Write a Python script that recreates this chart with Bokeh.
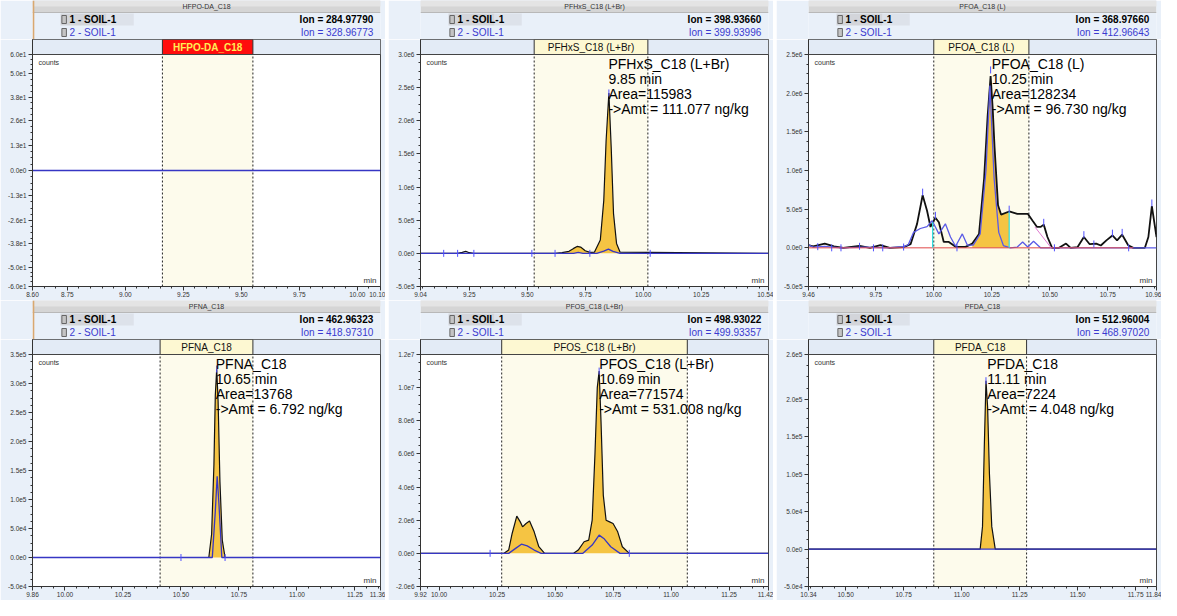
import numpy as np
from bokeh.plotting import figure
from bokeh.layouts import column, row
from bokeh.models import Range1d, FixedTicker, NumeralTickFormatter, Span
from bokeh.core.properties import value
from bokeh.embed import file_html
from bokeh.resources import INLINE

FONT = "Liberation Sans"

# ---------------- data ----------------
compounds = ["HFPO-DA_C18", "PFHxS_C18 (L+Br)", "PFOA_C18 (L)",
             "PFNA_C18", "PFOS_C18 (L+Br)", "PFDA_C18"]
ion1_mz = ["284.97790", "398.93660", "368.97660", "462.96323", "498.93022", "512.96004"]
ion2_mz = ["328.96773", "399.93996", "412.96643", "418.97310", "499.93357", "468.97020"]
sample1 = "1 - SOIL-1"
sample2 = "2 - SOIL-1"

x_limits = [(8.60, 10.10), (9.04, 10.54), (9.46, 10.96),
            (9.86, 11.36), (9.92, 11.42), (10.34, 11.84)]
x_ticks = [[8.60, 8.75, 9.00, 9.25, 9.50, 9.75, 10.00, 10.10],
           [9.04, 9.25, 9.50, 9.75, 10.00, 10.25, 10.54],
           [9.46, 9.75, 10.00, 10.25, 10.50, 10.75, 10.96],
           [9.86, 10.00, 10.25, 10.50, 10.75, 11.00, 11.25, 11.36],
           [9.92, 10.00, 10.25, 10.50, 10.75, 11.00, 11.25, 11.42],
           [10.34, 10.50, 10.75, 11.00, 11.25, 11.50, 11.75, 11.84]]
y_limits = [(-60, 60), (-5e5, 3e6), (-5e5, 2.5e6),
            (-5e4, 3.5e5), (-2e6, 1.2e7), (-5e4, 2.6e5)]
y_ticks = [[60, 50, 38, 26, 13, 0, -13, -26, -38, -50, -60],
           [3.0e6, 2.5e6, 2.0e6, 1.5e6, 1.0e6, 5.0e5, 0, -5.0e5],
           [2.5e6, 2.0e6, 1.5e6, 1.0e6, 5.0e5, 0, -5.0e5],
           [3.5e5, 3.0e5, 2.5e5, 2.0e5, 1.5e5, 1.0e5, 5.0e4, 0, -5.0e4],
           [1.2e7, 1.0e7, 8.0e6, 6.0e6, 4.0e6, 2.0e6, 0, -2.0e6],
           [2.6e5, 2.0e5, 1.5e5, 1.0e5, 5.0e4, 0, -5.0e4]]
windows = [(9.16, 9.55), (9.53, 10.02), (10.00, 10.41),
           (10.41, 10.81), (10.27, 11.07), (10.88, 11.28)]

ret_times = [None, 9.85, 10.25, 10.65, 10.69, 11.11]
areas = [None, "115983", "128234", "13768", "771574", "7224"]
amounts = [None, "111.077", "96.730", "6.792", "531.008", "4.048"]
fill_limits = [None, (9.65, 9.90), (10.166, 10.325), (10.62, 10.69), (10.28, 10.82), (11.08, 11.145)]

# HFPO-DA
hfpo_t1 = [8.60, 10.10]
hfpo_s1 = [0, 0]
hfpo_t2 = [8.60, 10.10]
hfpo_s2 = [0, 0]

# PFHxS
pfhxs_t1 = [9.04, 9.14, 9.20, 9.22, 9.235, 9.25, 9.27, 9.52, 9.62, 9.65, 9.68, 9.70, 9.715,
            9.73, 9.75, 9.77, 9.79, 9.815, 9.83, 9.84, 9.852, 9.862, 9.872, 9.885, 9.90, 10.54]
pfhxs_s1 = [0, 0, 0, 1.5e4, 3.0e4, 1.0e4, 0, 0, 0, 1.0e4, 3.0e4, 7.5e4, 1.05e5,
            9.5e4, 4.0e4, 1.5e4, 2.0e4, 2.0e5, 8.0e5, 1.7e6, 2.42e6, 1.6e6, 6.0e5, 1.5e5, 2.0e4, 0]
pfhxs_t2 = [9.04, 9.70, 9.72, 9.74, 9.80, 9.83, 9.85, 9.87, 9.90, 10.54]
pfhxs_s2 = [0, 0, 1.5e4, 0, 0, 3.5e4, 6.5e4, 3.0e4, 0, 0]
pfhxs_mark_t = [9.14, 9.20, 9.27, 9.52, 9.62, 9.77, 9.852, 10.03]
pfhxs_mark_y = [0, 0, 0, 0, 0, 0, 2.42e6, 0]

# PFOA
pfoa_t1 = [9.46, 9.48, 9.53, 9.57, 9.61, 9.68, 9.725, 9.77, 9.81, 9.87,
           9.90, 9.928, 9.952, 9.971, 9.986, 10.007, 10.022, 10.043, 10.065, 10.094,
           10.137, 10.166, 10.195, 10.217, 10.232, 10.245, 10.254, 10.262, 10.277, 10.29,
           10.325, 10.36, 10.405, 10.426, 10.445, 10.46, 10.474, 10.49, 10.51, 10.54,
           10.57, 10.59, 10.62, 10.647, 10.672, 10.70, 10.72, 10.744, 10.77, 10.79,
           10.812, 10.838, 10.86, 10.91, 10.925, 10.94, 10.96]
pfoa_s1 = [3.4e4, 2.0e4, 5.5e4, 2.0e4, 0, 2.5e4, 0, 3.4e4, 0, 1.0e4,
           4.7e4, 3.1e5, 6.8e5, 4.8e5, 2.7e5, 3.9e5, 3.3e5, 7.6e4, 7.6e4, 1.3e4,
           1.3e4, 5.5e4, 1.8e5, 9.0e5, 1.7e6, 2.22e6, 1.8e6, 1.3e6, 5.5e5, 4.3e5,
           4.7e5, 4.4e5, 4.4e5, 3.5e5, 2.7e5, 2.7e5, 3.0e5, 1.4e5, 0, 0,
           5.5e4, 0, 1.0e4, 1.4e5, 4.7e4, 5.5e4, 3.0e4, 9.7e4, 1.6e5, 9.7e4,
           1.7e5, 3.4e4, 0, 0, 1.4e5, 5.4e5, 1.4e5]
pfoa_t2 = [9.46, 9.48, 9.53, 9.60, 9.70, 9.80, 9.87, 9.89, 9.913, 9.942,
           9.971, 9.993, 10.007, 10.022, 10.05, 10.072, 10.094, 10.123, 10.145, 10.17,
           10.20, 10.225, 10.242, 10.26, 10.28, 10.30, 10.33, 10.36, 10.383, 10.405,
           10.43, 10.46, 10.96]
pfoa_s2 = [4.0e4, 1.0e4, 2.0e4, 0, 1.0e4, 0, 1.5e4, 4.0e4, 2.0e5, 2.5e5,
           2.75e5, 3.5e5, 2.7e5, 1.8e5, 3.1e5, 1.4e5, 2.0e4, 1.8e5, 3.4e4, 3.4e4,
           1.8e5, 1.0e6, 2.1e6, 9.0e5, 2.0e5, 3.0e4, 0, 1.0e4, 7.6e4, 1.0e4,
           8.5e4, 0, 0]
pfoa_mark_t = [9.46, 9.50, 9.56, 9.60, 9.68, 9.74, 9.78, 9.87, 9.952, 10.007, 10.10,
               10.245, 10.325, 10.474, 10.52, 10.647, 10.69, 10.77, 10.812, 10.84, 10.94]
pfoa_mark_y = [3.4e4, 1.5e4, 0, 0, 2.0e4, 0, 0, 1.0e4, 7.2e5, 4.2e5, 0,
               2.3e6, 5.0e5, 3.3e5, 0, 1.7e5, 5.0e4, 1.9e5, 2.0e5, 0, 5.8e5]
pfoa_base_t = [9.46, 10.86]
pfoa_base_y = [0, 0]
pfoa_drop_t = [10.436, 10.506]
pfoa_drop_y = [2.7e5, 0]
pfoa_cut_t = [9.995, 10.325]
pfoa_cut_y = [3.3e5, 4.7e5]

# PFNA
pfna_t1 = [9.86, 10.50, 10.62, 10.632, 10.642, 10.648, 10.654, 10.66, 10.668, 10.678, 10.69, 11.36]
pfna_s1 = [0, 0, 0, 4.0e4, 1.6e5, 2.8e5, 3.25e5, 2.7e5, 1.3e5, 3.0e4, 0, 0]
pfna_t2 = [9.86, 10.635, 10.648, 10.656, 10.664, 10.676, 11.36]
pfna_s2 = [0, 0, 8.0e4, 1.4e5, 9.0e4, 0, 0]
pfna_mark_t = [10.50, 10.69, 10.654]
pfna_mark_y = [0, 0, 3.25e5]

# PFOS
pfos_t1 = [9.92, 10.22, 10.28, 10.30, 10.315, 10.335, 10.35, 10.36, 10.375, 10.39,
           10.41, 10.43, 10.455, 10.58, 10.60, 10.625, 10.645, 10.66, 10.672, 10.682,
           10.69, 10.698, 10.708, 10.72, 10.735, 10.75, 10.77, 10.79, 10.82, 11.42]
pfos_s1 = [0, 0, 0, 2.0e5, 1.2e6, 2.25e6, 1.9e6, 1.6e6, 1.8e6, 1.95e6,
           1.3e6, 4.0e5, 0, 0, 2.0e5, 7.0e5, 8.0e5, 2.0e6, 6.0e6, 1.0e7,
           1.1e7, 8.0e6, 3.5e6, 2.0e6, 1.9e6, 1.8e6, 1.3e6, 4.0e5, 0, 0]
pfos_t2 = [9.92, 10.30, 10.33, 10.355, 10.38, 10.41, 10.44, 10.62, 10.66, 10.69, 10.71, 10.74, 10.78, 11.42]
pfos_s2 = [0, 0, 3.0e5, 5.5e5, 4.5e5, 2.0e5, 0, 0, 5.0e5, 1.1e6, 9.0e5, 4.0e5, 0, 0]
pfos_mark_t = [10.22, 10.82, 10.69]
pfos_mark_y = [0, 0, 1.1e7]

# PFDA
pfda_t1 = [10.34, 11.08, 11.09, 11.098, 11.105, 11.112, 11.12, 11.13, 11.145, 11.84]
pfda_s1 = [0, 0, 3.0e4, 1.4e5, 2.25e5, 1.9e5, 1.0e5, 3.0e4, 0, 0]
pfda_t2 = [10.34, 11.84]
pfda_s2 = [0, 0]
pfda_mark_t = [11.105]
pfda_mark_y = [2.25e5]

traces = [
    (hfpo_t1, hfpo_s1, hfpo_t2, hfpo_s2, [], []),
    (pfhxs_t1, pfhxs_s1, pfhxs_t2, pfhxs_s2, pfhxs_mark_t, pfhxs_mark_y),
    (pfoa_t1, pfoa_s1, pfoa_t2, pfoa_s2, pfoa_mark_t, pfoa_mark_y),
    (pfna_t1, pfna_s1, pfna_t2, pfna_s2, pfna_mark_t, pfna_mark_y),
    (pfos_t1, pfos_s1, pfos_t2, pfos_s2, pfos_mark_t, pfos_mark_y),
    (pfda_t1, pfda_s1, pfda_t2, pfda_s2, pfda_mark_t, pfda_mark_y),
]

# ---------------- layout constants ----------------
W = 385
HEAD_H = 39
CHART_H = 261
LEFT = 32
RIGHT = 5
BOTTOM = 14
STRIP_PX = 15
PANEL_BG = "#e9f0f9"
BLACK_TRACE = "#111111"
BLUE_TRACE = "#3636c4"
LABEL_BLUE = "#3a3ad0"
YELLOW = "#f5c443"


def sci(v):
    if v == 0:
        return "0.0e0"
    m, e = f"{v:.1e}".split("e")
    return f"{m}e{int(e)}"


def y_minors(majors, n=4):
    s = sorted(majors)
    out = []
    for a, b in zip(s[:-1], s[1:]):
        for k in range(1, n):
            out.append(a + (b - a) * k / n)
    return out


def x_minors(lo, hi, step=0.05):
    start = np.ceil(lo / step - 1e-9) * step
    return [round(v, 3) for v in np.arange(start, hi + 1e-9, step)]


def make_header(i):
    h = figure(width=W, height=HEAD_H, x_range=Range1d(0, W), y_range=Range1d(0, HEAD_H),
               output_backend="svg", toolbar_location=None, min_border=0,
               x_axis_location=None, y_axis_location=None)
    h.grid.visible = False
    h.outline_line_color = None
    h.background_fill_color = PANEL_BG
    h.border_fill_color = PANEL_BG
    # title bar
    h.quad(left=[0], right=[W], bottom=[HEAD_H - 12], top=[HEAD_H], fill_color="#d5d5d5", line_color=None)
    h.quad(left=[0], right=[W], bottom=[HEAD_H - 6], top=[HEAD_H], fill_color="#e4e4e4", line_color=None)
    h.line(x=[0, W], y=[HEAD_H - 12, HEAD_H - 12], line_color="#b8b8b8", line_width=1)
    h.text(x=[W / 2], y=[HEAD_H - 6], text=[compounds[i]], text_align="center", text_baseline="middle",
           text_font=value(FONT), text_font_size="7px", text_color="#333333")
    if i % 3 == 0:
        h.quad(left=[0], right=[2], bottom=[0], top=[HEAD_H], fill_color="#d9a870", line_color=None)
    # highlighted first row
    h.quad(left=[LEFT - 1], right=[LEFT + 50], bottom=[14], top=[26], fill_color="#d3d5da", line_color=None)
    h.quad(left=[LEFT + 50], right=[LEFT + 80], bottom=[14], top=[26], fill_color="#dde2ea", line_color=None)
    # vial icons
    h.rect(x=[LEFT + 3, LEFT + 3], y=[20, 7], width=5, height=8, fill_color="#c4c4c4", line_color="#666666")
    h.text(x=[LEFT + 9], y=[20], text=[sample1], text_baseline="middle", text_font=value(FONT),
           text_font_size="10px", text_font_style="bold", text_color="black")
    h.text(x=[LEFT + 9], y=[7], text=[sample2], text_baseline="middle", text_font=value(FONT),
           text_font_size="10px", text_color=LABEL_BLUE)
    h.text(x=[W - RIGHT - 3], y=[20], text=["Ion = " + ion1_mz[i]], text_align="right", text_baseline="middle",
           text_font=value(FONT), text_font_size="10px", text_font_style="bold", text_color="black")
    h.text(x=[W - RIGHT - 3], y=[7], text=["Ion = " + ion2_mz[i]], text_align="right", text_baseline="middle",
           text_font=value(FONT), text_font_size="10px", text_color=LABEL_BLUE)
    return h


def make_chart(i):
    x0, x1 = x_limits[i]
    ymin, ymax = y_limits[i]
    ytop = ymax + (ymax - ymin) * STRIP_PX / (CHART_H - BOTTOM - STRIP_PX)
    w0, w1 = windows[i]
    t1, s1, t2, s2, mt, my = traces[i]

    c = figure(width=W, height=CHART_H, x_range=Range1d(x0, x1), y_range=Range1d(ymin, ytop),
               output_backend="svg", toolbar_location=None,
               min_border_left=LEFT, min_border_right=RIGHT, min_border_top=0, min_border_bottom=BOTTOM)
    c.grid.visible = False
    c.background_fill_color = "white"
    c.border_fill_color = PANEL_BG
    c.outline_line_color = "#444444"

    # axes
    c.xaxis.ticker = FixedTicker(ticks=x_ticks[i], minor_ticks=x_minors(x0, x1))
    c.xaxis.formatter = NumeralTickFormatter(format="0.00")
    c.yaxis.ticker = FixedTicker(ticks=y_ticks[i], minor_ticks=y_minors(y_ticks[i]))
    c.yaxis.major_label_overrides = {v: sci(v) for v in y_ticks[i]}
    for ax in (c.xaxis[0], c.yaxis[0]):
        ax.major_label_text_font = FONT
        ax.major_label_text_font_size = "6.5px"
        ax.major_label_text_color = "#333333"
        ax.axis_line_color = "#333333"
        ax.major_tick_line_color = "#333333"
        ax.minor_tick_line_color = "#333333"
        ax.major_tick_in = 0
        ax.major_tick_out = 4
        ax.minor_tick_in = 0
        ax.minor_tick_out = 2
    c.xaxis.major_label_standoff = 1
    c.yaxis.major_label_standoff = 2

    # integration window shading
    c.quad(left=[w0], right=[w1], bottom=[ymin], top=[ymax], fill_color="#fdfbec", line_color=None)
    # header strip with compound box
    c.quad(left=[x0], right=[x1], bottom=[ymax], top=[ytop], fill_color="#e3ebf6", line_color=None)
    if i == 0:
        box_fill, box_text, box_style = "#ff0d0d", "#ffee55", "bold"
    else:
        box_fill, box_text, box_style = "#fdf8d2", "#111111", "normal"
    c.quad(left=[w0], right=[w1], bottom=[ymax], top=[ytop], fill_color=box_fill, line_color="#333333")
    c.text(x=[(w0 + w1) / 2], y=[(ymax + ytop) / 2], text=[compounds[i]], text_align="center",
           text_baseline="middle", text_font=value(FONT), text_font_size="10px",
           text_font_style=box_style, text_color=box_text)
    c.add_layout(Span(location=ymax, dimension="width", line_color="#444444", line_width=1))
    # dashed window limits
    c.segment(x0=[w0, w1], y0=[ymin, ymin], x1=[w0, w1], y1=[ymax, ymax],
              line_color="#222222", line_dash="2 2", line_width=1)

    # peak area fill
    if fill_limits[i] is not None:
        f0, f1 = fill_limits[i]
        tf = [t for t in t1 if f0 <= t <= f1]
        sf = [s for t, s in zip(t1, s1) if f0 <= t <= f1]
        c.varea(x=tf, y1=[0] * len(tf), y2=sf, fill_color=YELLOW)

    lw = 1.8 if i == 2 else 1.2
    c.line(t1, s1, line_color=BLACK_TRACE, line_width=lw)
    c.line(t2, s2, line_color=("#5a5ae6" if i == 2 else BLUE_TRACE), line_width=1.3)

    if i == 2:
        c.line(pfoa_base_t, pfoa_base_y, line_color="#e04848", line_width=1)
        c.line(pfoa_drop_t, pfoa_drop_y, line_color="#e07ad0", line_width=1)
        c.segment(x0=pfoa_cut_t, y0=[0] * len(pfoa_cut_t), x1=pfoa_cut_t, y1=pfoa_cut_y,
                  line_color="#2fdede", line_width=1.2)

    if mt:
        c.scatter(x=mt, y=my, marker="dash", angle=np.pi / 2, size=7,
                  line_color="#5050ff", line_width=1)

    # corner labels
    c.text(x=[x0], y=[ymax], text=["counts"], text_align="left", text_baseline="top",
           x_offset=6, y_offset=4, text_font=value(FONT), text_font_size="7px", text_color="#333333")
    c.text(x=[x1], y=[ymin], text=["min"], text_align="right", text_baseline="bottom",
           x_offset=-4, y_offset=-2, text_font=value(FONT), text_font_size="8px", text_color="#333333")

    # peak annotation
    if ret_times[i] is not None:
        rt = ret_times[i]
        lines = [compounds[i], f"{rt:.2f} min", f"Area={areas[i]}", f"->Amt = {amounts[i]} ng/kg"]
        for k, ln in enumerate(lines):
            c.text(x=[rt], y=[ymax], text=[ln], text_align="left", text_baseline="top",
                   y_offset=1 + 15 * k, text_font=value(FONT), text_font_size="14px", text_color="black")
    return c


panels = [column(make_header(i), make_chart(i), spacing=0) for i in range(6)]
layout = column(row(*panels[:3], spacing=3), row(*panels[3:], spacing=3), spacing=0)

open("out.html", "w").write(file_html(layout, INLINE))
